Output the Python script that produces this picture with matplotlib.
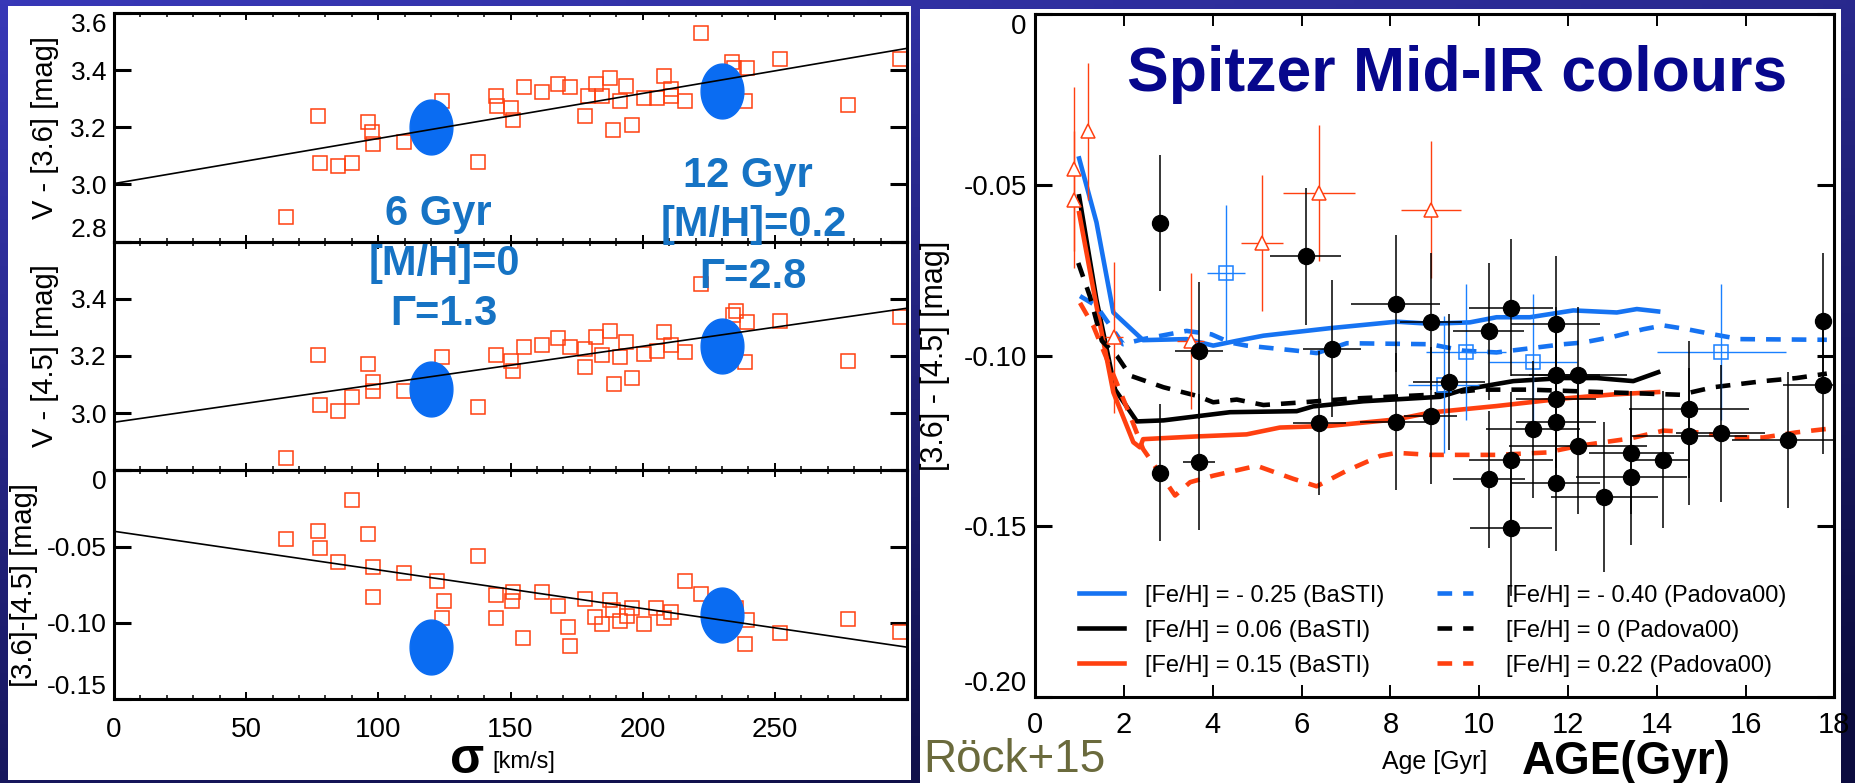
import numpy as np
import matplotlib
matplotlib.use("Agg")
import matplotlib.pyplot as plt
from matplotlib.path import Path
from matplotlib.patches import Rectangle

plt.rcParams['font.family'] = ['Liberation Sans', 'DejaVu Sans']

# ---------------- left: colours vs velocity dispersion ----------------
sig_top = [65, 77, 78, 84.8, 90.1, 96, 97.6, 98, 109.7, 124, 137.7, 144.6, 144.8, 150.1,
           151.1, 155, 161.8, 168.1, 172.4, 178.3, 179.3, 182.2, 184.7, 187.7, 188.7, 191.6,
           193.6, 196.1, 200.4, 205.3, 207.9, 210.8, 210.8, 216.1, 222, 233.7, 234.7, 239.6,
           238.6, 252, 277.8, 297.4]
v36 = [2.886, 3.24, 3.076, 3.066, 3.076, 3.218, 3.182, 3.142, 3.147, 3.293, 3.08, 3.311,
       3.273, 3.267, 3.226, 3.341, 3.323, 3.35, 3.341, 3.24, 3.311, 3.35, 3.308, 3.373,
       3.189, 3.291, 3.346, 3.209, 3.303, 3.303, 3.381, 3.334, 3.311, 3.291, 3.531, 3.428,
       3.408, 3.408, 3.291, 3.438, 3.279, 3.44]

sig_mid = [65, 77, 78, 84.8, 90.1, 96, 98, 98, 109.7, 124, 137.7, 144.6, 150.1, 151.1, 155,
           161.8, 168.1, 172.4, 178.3, 178.3, 182.2, 184.7, 187.7, 189.1, 191.6, 193.6, 196.1,
           200.4, 205.3, 207.9, 210.8, 216.1, 222, 234.1, 235.3, 239.6, 238.6, 252, 277.8, 297.4]
v45 = [2.843, 3.202, 3.029, 3.007, 3.058, 3.173, 3.108, 3.079, 3.079, 3.196, 3.021, 3.204,
       3.181, 3.146, 3.233, 3.237, 3.262, 3.233, 3.225, 3.161, 3.266, 3.204, 3.289, 3.103,
       3.196, 3.248, 3.122, 3.208, 3.219, 3.283, 3.237, 3.213, 3.452, 3.342, 3.356, 3.318,
       3.178, 3.324, 3.184, 3.336]

sig_bot = [65, 77, 78, 90.1, 96, 84.8, 98, 98, 109.7, 137.7, 122.1, 125, 124, 144.6, 144.6,
           150.9, 150.5, 154.7, 161.8, 168.1, 171.6, 172.6, 178.3, 181.8, 184.7, 187.7, 188.7,
           191.6, 194.2, 196.1, 200.4, 205, 207.9, 210.8, 216.1, 222, 235.3, 239.6, 238.6, 252,
           277.8, 297.4]
c3645 = [-0.045, -0.040, -0.051, -0.0196, -0.0417, -0.0604, -0.0637, -0.0833, -0.0674,
         -0.0565, -0.0728, -0.0854, -0.0972, -0.0815, -0.0972, -0.0798, -0.0859, -0.1098,
         -0.0798, -0.0887, -0.1028, -0.1152, -0.0843, -0.0963, -0.1011, -0.0848, -0.0913,
         -0.0989, -0.0957, -0.0902, -0.1007, -0.0902, -0.0972, -0.0928, -0.0728, -0.0811,
         -0.0902, -0.0985, -0.1141, -0.1065, -0.0978, -0.1059]

ssp_sigma = [120, 230]
ssp_v36 = [3.20, 3.326]
ssp_v45 = [3.083, 3.234]
ssp_c = [-0.116, -0.0946]

fit_sigma = [0, 300]
fit_v36 = [3.003, 3.476]
fit_v45 = [2.968, 3.367]
fit_c = [-0.040, -0.116]

# ---------------- right: [3.6]-[4.5] vs age ----------------
gc_age = [2.80, 6.09, 8.12, 8.91, 10.72, 10.22, 11.72, 17.75, 3.69, 6.68, 9.32, 11.72, 12.22,
          11.72, 17.75, 6.40, 8.12, 8.91, 11.21, 11.72, 14.73, 14.73, 15.44, 16.95, 12.22,
          13.43, 14.13, 2.80, 3.69, 10.72, 10.22, 11.72, 13.43, 12.82, 10.72]
gc_col = [-0.0612, -0.0710, -0.0848, -0.0901, -0.0860, -0.0929, -0.0908, -0.0899, -0.0986,
          -0.0980, -0.1078, -0.1057, -0.1057, -0.1128, -0.1087, -0.1198, -0.1194, -0.1176,
          -0.1216, -0.1196, -0.1158, -0.1237, -0.1228, -0.1248, -0.1264, -0.1285, -0.1305,
          -0.1343, -0.1312, -0.1307, -0.1363, -0.1373, -0.1355, -0.1414, -0.1504]
gc_age_err = [0, 0.80, 1.00, 0.70, 0.95, 0.80, 1.00, 0, 0.55, 0.65, 0.80, 1.00, 1.10, 0.90,
              0.90, 0.60, 0.80, 0.60, 1.05, 0.90, 1.35, 1.30, 1.00, 1.25, 1.55, 0.95, 0.60,
              0, 0.35, 0.95, 0.82, 1.00, 1.25, 1.20, 0.92]
gc_col_err = [0.020, 0.020, 0.020, 0.020, 0.020, 0.020, 0.020, 0.020, 0.020, 0.020, 0.020,
              0.020, 0.020, 0.020, 0.020, 0.021, 0.020, 0.020, 0.020, 0.020, 0.020, 0.020,
              0.020, 0.020, 0.020, 0.018, 0.020, 0.020, 0.020, 0.020, 0.020, 0.020, 0.020,
              0.022, 0.020]

tri_age = [0.88, 1.20, 0.88, 1.78, 3.50, 5.10, 6.40, 8.91]
tri_col = [-0.0454, -0.0344, -0.0544, -0.0947, -0.0957, -0.0670, -0.0524, -0.0573]
tri_age_err = [0, 0, 0, 0.20, 0.30, 0.47, 0.81, 0.67]
tri_col_err = [0.024, 0.020, 0.020, 0.022, 0.020, 0.020, 0.020, 0.020]

sq_age = [4.30, 9.20, 9.70, 11.22, 15.45]
sq_col = [-0.0758, -0.1085, -0.0990, -0.1019, -0.0990]
sq_age_err = [0.42, 0.80, 0.90, 0.99, 1.45]
sq_col_err = [0.020, 0.020, 0.020, 0.020, 0.020]

basti_m025_age = [0.99, 1.38, 1.76, 2.43, 3.41, 4.01, 4.54, 5.14, 6.64, 8.14, 8.89, 9.79,
                  10.39, 11.14, 12.12, 13.10, 13.55, 14.03]
basti_m025_col = [-0.0423, -0.0610, -0.0874, -0.0955, -0.0952, -0.0971, -0.0957, -0.0942,
                  -0.0920, -0.0901, -0.0907, -0.0903, -0.0888, -0.0888, -0.0868, -0.0874,
                  -0.0864, -0.0871]
basti_006_age = [0.99, 1.38, 1.80, 2.29, 2.89, 4.39, 5.89, 6.26, 7.39, 9.12, 9.65, 10.77,
                 11.89, 12.65, 13.47, 14.03]
basti_006_col = [-0.0534, -0.0837, -0.1100, -0.1193, -0.1190, -0.1166, -0.1163, -0.1149,
                 -0.1134, -0.1121, -0.1100, -0.1075, -0.1066, -0.1066, -0.1075, -0.1049]
basti_015_age = [0.99, 1.38, 1.76, 2.21, 2.36, 2.43, 3.64, 4.76, 5.51, 6.64, 8.14, 8.90,
                 10.39, 11.89, 13.02, 14.03]
basti_015_col = [-0.0583, -0.0855, -0.1108, -0.1254, -0.1269, -0.1245, -0.1237, -0.1231,
                 -0.1211, -0.1206, -0.1187, -0.1167, -0.1148, -0.1126, -0.1114, -0.1107]
padova_m040_age = [1.01, 1.38, 1.98, 2.43, 3.41, 3.97, 4.39, 4.76, 5.89, 6.34, 7.02, 8.90,
                   9.65, 10.39, 11.14, 11.89, 12.34, 13.02, 13.70, 14.15, 14.68, 15.27,
                   15.87, 17.83]
padova_m040_col = [-0.0826, -0.0855, -0.0967, -0.0952, -0.0928, -0.0938, -0.0962, -0.0971,
                   -0.0986, -0.0993, -0.0964, -0.0967, -0.0986, -0.0991, -0.0979, -0.0967,
                   -0.0962, -0.0945, -0.0923, -0.0912, -0.0923, -0.0938, -0.0952, -0.0954]
padova_0_age = [0.97, 1.23, 1.50, 1.84, 2.14, 2.89, 3.64, 4.01, 4.54, 5.14, 6.04, 7.02, 8.90,
                10.02, 11.14, 12.27, 13.40, 14.53, 15.27, 16.40, 17.15, 17.83]
padova_0_col = [-0.0729, -0.0826, -0.0957, -0.1001, -0.1059, -0.1093, -0.1118, -0.1137,
                -0.1129, -0.1145, -0.1137, -0.1127, -0.1115, -0.1100, -0.1100, -0.1105,
                -0.1110, -0.1115, -0.1093, -0.1075, -0.1066, -0.1053]
padova_022_age = [1.01, 1.31, 2.14, 2.43, 2.74, 3.15, 3.49, 4.01, 4.99, 5.81, 6.34, 7.02,
                  7.77, 8.14, 8.90, 10.39, 11.52, 12.27, 13.40, 14.15, 14.90, 15.65, 16.40,
                  17.15, 17.83]
padova_022_col = [-0.0846, -0.0914, -0.1177, -0.1274, -0.1332, -0.1410, -0.1371, -0.1352,
                  -0.1323, -0.1361, -0.1383, -0.1337, -0.1294, -0.1285, -0.1291, -0.1291,
                  -0.1284, -0.1264, -0.1243, -0.1220, -0.1225, -0.1240, -0.1240, -0.1225,
                  -0.1215]

legend_basti = ['[Fe/H] = - 0.25 (BaSTI)', '[Fe/H] = 0.06 (BaSTI)', '[Fe/H] = 0.15 (BaSTI)']
legend_padova = ['[Fe/H] = - 0.40 (Padova00)', '[Fe/H] = 0 (Padova00)',
                 '[Fe/H] = 0.22 (Padova00)']

RED = '#ff4010'
BLUE = '#1673f2'
TXTBLUE = '#1673c4'

W, H = 1855, 783
fig = plt.figure(figsize=(W / 100, H / 100), dpi=100)

# slide background
bg_ax = fig.add_axes([0, 0, 1, 1], zorder=-10)
yy, xx = np.mgrid[0:1:200j, 0:1:400j]
t = np.clip(0.75 * yy + 0.35 * xx, 0, 1)[..., None]
top_c = np.array([0.22, 0.22, 0.72])
bot_c = np.array([0.05, 0.05, 0.25])
bg_ax.imshow(top_c * (1 - t) + bot_c * t, aspect='auto', extent=[0, 1, 0, 1])
bg_ax.set_axis_off()

fig.patches.append(Rectangle((8 / W, 3 / H), 903 / W, 774 / H, transform=fig.transFigure,
                             facecolor='white', edgecolor='none', zorder=-5))
fig.patches.append(Rectangle((920 / W, 0), 921 / W, 774 / H, transform=fig.transFigure,
                             facecolor='white', edgecolor='none', zorder=-5))


def px(x, y):
    return x / W, 1 - y / H


# ---- left stack ----
lx, lw = 114 / W, 793 / W
ph = 228.7 / H
b0 = (H - 699) / H
axes_left = [fig.add_axes([lx, b0 + 2 * ph, lw, ph]),
             fig.add_axes([lx, b0 + ph, lw, ph]),
             fig.add_axes([lx, b0, lw, ph])]

t_ = np.linspace(0, 2 * np.pi, 80)
ell = Path(np.c_[0.78 * np.cos(t_), np.sin(t_)], closed=True)

panels = [(sig_top, v36, ssp_v36, fit_v36, (2.8, 3.6), [2.8, 3.0, 3.2, 3.4, 3.6],
           ['2.8', '3.0', '3.2', '3.4', '3.6'], 'V - [3.6] [mag]', -0.069),
          (sig_mid, v45, ssp_v45, fit_v45, (2.8, 3.6), [2.8, 3.0, 3.2, 3.4, 3.6],
           ['', '3.0', '3.2', '3.4', ''], 'V - [4.5] [mag]', -0.069),
          (sig_bot, c3645, ssp_c, fit_c, (-0.15, 0.0), [-0.15, -0.10, -0.05, 0.0],
           ['-0.15', '-0.10', '-0.05', '0'], '[3.6]-[4.5] [mag]', -0.096)]

for i, (ax, (xs, ys, ssp, fit, ylim, yt, ytl, ylab, ylx)) in enumerate(zip(axes_left, panels)):
    ax.set_facecolor('none')
    ax.plot(xs, ys, 's', ms=10, mfc='none', mec=RED, mew=1.1, zorder=2)
    ax.plot(ssp_sigma, ssp, ls='none', marker=ell, ms=39.5, color='#0a6cf2', zorder=3)
    ax.plot(fit_sigma, fit, color='black', lw=1.2, zorder=4)
    ax.set_xlim(0, 300)
    ax.set_ylim(*ylim)
    ax.set_yticks(yt)
    ax.set_yticklabels(ytl)
    ax.set_xticks(np.arange(0, 301, 50))
    ax.set_xticks(np.arange(0, 301, 10), minor=True)
    ax.tick_params(axis='y', which='major', direction='in', length=12, width=2.2,
                   left=True, right=True, labelsize=19, pad=5)
    ax.tick_params(axis='x', which='major', direction='in', length=5, width=1.4,
                   top=True, bottom=True, labelsize=20, pad=13)
    ax.tick_params(axis='x', which='minor', direction='in', length=3, width=1.1,
                   top=True, bottom=True)
    labs = ax.get_yticklabels()
    labs[0].set_va('bottom')
    labs[-1].set_va('top')
    if i < 2:
        ax.set_xticklabels([])
    else:
        ax.set_xticklabels(['0', '50', '100', '150', '200', '250', ''])
    for s in ax.spines.values():
        s.set_linewidth(2.2)
    ax.set_ylabel(ylab, fontsize=21)
    ax.yaxis.set_label_coords(ylx, 0.5)

fig.text(*px(467, 760), 'σ', fontsize=36, fontweight='bold', ha='center', va='center')
fig.text(*px(492, 762), '[km/s]', fontsize=17, ha='left', va='center')

blue_kw = dict(fontsize=30, fontweight='bold', color=TXTBLUE, ha='center', va='center',
               zorder=20)
fig.text(*px(438, 214), '6 Gyr', **blue_kw)
fig.text(*px(444, 264), '[M/H]=0', **blue_kw)
fig.text(*px(444, 314), 'Γ=1.3', **blue_kw)
fig.text(*px(748, 176), '12 Gyr', **blue_kw)
fig.text(*px(754, 225), '[M/H]=0.2', **blue_kw)
fig.text(*px(753, 277), 'Γ=2.8', **blue_kw)

# ---- right panel ----
ax = fig.add_axes([1035.2 / W, (H - 697) / H, 799.2 / W, 683 / H])
ax.set_facecolor('none')
dash = (3.2, 2.4)
lw_m = 3.3
l1, = ax.plot(basti_m025_age, basti_m025_col, color=BLUE, lw=lw_m, zorder=2)
l2, = ax.plot(basti_006_age, basti_006_col, color='black', lw=lw_m, zorder=2)
l3, = ax.plot(basti_015_age, basti_015_col, color=RED, lw=lw_m, zorder=2)
l4, = ax.plot(padova_m040_age, padova_m040_col, color=BLUE, lw=lw_m, dashes=dash, zorder=2)
l5, = ax.plot(padova_0_age, padova_0_col, color='black', lw=lw_m, dashes=dash, zorder=2)
l6, = ax.plot(padova_022_age, padova_022_col, color=RED, lw=lw_m, dashes=dash, zorder=2)

ax.errorbar(gc_age, gc_col, xerr=gc_age_err, yerr=gc_col_err, fmt='o', ms=11.5,
            color='black', elinewidth=1.1, capsize=0, zorder=4)
ax.errorbar(tri_age, tri_col, xerr=tri_age_err, yerr=tri_col_err, fmt='^', ms=10,
            mfc='white', mec=RED, mew=1.1, color=RED, elinewidth=1.0, capsize=0, zorder=3)
ax.errorbar(sq_age, sq_col, xerr=sq_age_err, yerr=sq_col_err, fmt='s', ms=10,
            mfc='none', mec='#1a80ff', mew=1.1, color='#1a80ff', elinewidth=1.0, capsize=0,
            zorder=3)

ax.set_xlim(0, 18)
ax.set_ylim(-0.20, 0.0)
ax.set_xticks(np.arange(0, 19, 2))
ax.set_yticks([-0.20, -0.15, -0.10, -0.05, 0.0])
ax.set_yticklabels(['-0.20', '-0.15', '-0.10', '-0.05', '0'])
ax.tick_params(axis='x', direction='in', length=8.5, width=1.4, top=True, bottom=True,
               labelsize=21, pad=10)
ax.tick_params(axis='y', direction='in', length=12, width=2.2, left=True, right=True,
               labelsize=20, pad=6)
ylabs = ax.get_yticklabels()
ylabs[0].set_va('bottom')
ylabs[-1].set_va('top')
for s in ax.spines.values():
    s.set_linewidth(2.2)
ax.set_ylabel('[3.6] - [4.5] [mag]', fontsize=22)
ax.yaxis.set_label_coords(-0.107, 0.5)

leg_kw = dict(frameon=False, fontsize=17, loc='lower left', borderpad=0, borderaxespad=0,
              labelspacing=0.55)
leg1 = ax.legend([l1, l2, l3], legend_basti, bbox_to_anchor=(0.055, 0.03), handlelength=1.9,
                 handletextpad=0.9, **leg_kw)
ax.add_artist(leg1)
ax.legend([l4, l5, l6], legend_padova, bbox_to_anchor=(0.503, 0.03), handlelength=1.5,
          handletextpad=1.4, **leg_kw)

ax.text(0.5 * (1122.7 + 1791.8 - 2 * 1035.2) / 799.2, (697 - 75) / 683,
        'Spitzer Mid-IR colours', transform=ax.transAxes, fontsize=45, fontweight='bold',
        color='#07078c', ha='center', va='center')

fig.text(*px(1435, 762), 'Age [Gyr]', fontsize=18, ha='center', va='center')
fig.text(*px(1626, 762), 'AGE(Gyr)', fontsize=33, fontweight='bold', ha='center',
         va='center')
fig.text(*px(923, 760), 'Röck+15', fontsize=33, color='#6a6a3c', ha='left', va='center')

fig.savefig('out.png', dpi=100)
